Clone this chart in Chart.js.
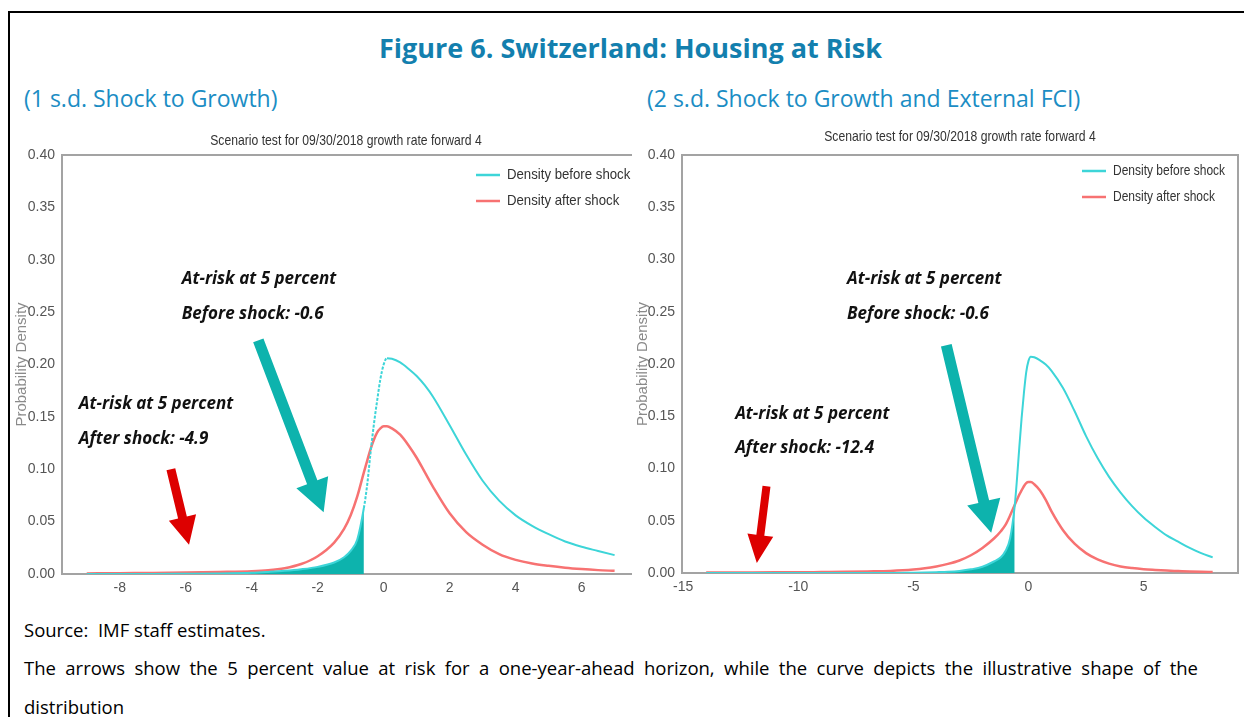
<!DOCTYPE html>
<html>
<head>
<meta charset="utf-8">
<script src="https://cdn.jsdelivr.net/npm/chart.js@4.4.1/dist/chart.umd.min.js"></script>
<style>
  html, body { margin: 0; padding: 0; background: #fff; width: 1244px; height: 717px; overflow: hidden; }
  .frame { position: absolute; left: 8px; top: 11px; width: 1260px; height: 730px; border: 2px solid #000; box-sizing: border-box; }
  .fig-title { position: absolute; left: 8px; width: 1245px; top: 29px; line-height: 34px; text-align: center;
    font: bold 27px "Open Sans", sans-serif; color: #137fae; }
  .sub { position: absolute; top: 82px; line-height: 32px; font: 23px "Open Sans", sans-serif; color: #1b8dc4; white-space: nowrap; }
  .note { position: absolute; left: 24px; line-height: 26px; font: 18.5px "Open Sans", sans-serif; color: #000; white-space: nowrap; }
  .just { width: 1174px; text-align: justify; text-align-last: justify; white-space: normal; }
  .clip { position: absolute; left: 10px; top: 125px; width: 622px; height: 475px; overflow: hidden; }
  canvas { position: absolute; }
</style>
</head>
<body>
<div class="frame"></div>
<div class="fig-title">Figure 6. Switzerland: Housing at Risk</div>
<div class="sub" style="left:24px">(1 s.d. Shock to Growth)</div>
<div class="sub" style="left:647px">(2 s.d. Shock to Growth and External FCI)</div>
<div class="clip"><canvas id="left" width="632" height="475" style="left:0; top:0"></canvas></div>
<canvas id="right" width="611" height="475" style="left:633px; top:125px"></canvas>
<div class="note" style="top:617px">Source:&nbsp; IMF staff estimates.</div>
<div class="note just" style="top:655px">The arrows show the 5 percent value at risk for a one-year-ahead horizon, while the curve depicts the illustrative shape of the</div>
<div class="note" style="top:694px">distribution</div>

<script>
// growth rate grid and densities
const xLeft = [-9, -8, -7, -6, -5, -4, -3.5, -3, -2.5, -2, -1.5, -1.2, -1, -0.8, -0.6, -0.5, -0.4, -0.3, -0.2, -0.1,
  0, 0.1, 0.25, 0.5, 0.75, 1, 1.25, 1.5, 2, 2.5, 3, 3.5, 4, 4.5, 5, 5.5, 6, 6.5, 7];
const beforeLeft = [0, 0, 0, 0.0002, 0.0005, 0.0012, 0.002, 0.003, 0.0045, 0.0068, 0.011, 0.016, 0.022, 0.033, 0.063, 0.085, 0.115, 0.142, 0.165, 0.186,
  0.200, 0.206, 0.2055, 0.202, 0.196, 0.189, 0.180, 0.169, 0.142, 0.114, 0.089, 0.070, 0.056, 0.046, 0.038, 0.031, 0.026, 0.022, 0.018];
const afterLeft = [0.0005, 0.0008, 0.001, 0.0014, 0.0019, 0.0026, 0.0035, 0.0055, 0.0095, 0.017, 0.030, 0.043, 0.056, 0.074, 0.097, 0.108, 0.119, 0.128, 0.135, 0.139,
  0.141, 0.141, 0.139, 0.133, 0.123, 0.111, 0.097, 0.083, 0.058, 0.040, 0.028, 0.019, 0.0135, 0.010, 0.0078, 0.006, 0.0047, 0.0037, 0.003];

const xRight = [-14, -13, -12, -11, -10, -9, -8, -7, -6, -5, -4.5, -4, -3.5, -3, -2.5, -2, -1.5, -1.2, -1, -0.8, -0.6, -0.5, -0.4, -0.3, -0.2, -0.1,
  0, 0.1, 0.25, 0.5, 0.75, 1, 1.5, 2, 2.5, 3, 3.5, 4, 4.5, 5, 5.5, 6, 6.5, 7, 7.5, 8];
const beforeRight = [0, 0, 0, 0, 0, 0, 0, 0, 0, 0.0003, 0.0005, 0.0008, 0.0012, 0.002, 0.0035, 0.006, 0.011, 0.015, 0.021, 0.033, 0.064, 0.09, 0.12, 0.148, 0.172, 0.192,
  0.203, 0.207, 0.2065, 0.2035, 0.1995, 0.1935, 0.177, 0.155, 0.131, 0.110, 0.092, 0.077, 0.064, 0.053, 0.044, 0.036, 0.030, 0.024, 0.019, 0.015];
const afterRight = [0.0004, 0.0004, 0.0005, 0.0006, 0.0007, 0.0009, 0.0011, 0.0015, 0.002, 0.0033, 0.0045, 0.0063, 0.0087, 0.012, 0.017, 0.024, 0.033, 0.040, 0.046, 0.055, 0.065, 0.070, 0.075, 0.079, 0.083, 0.086,
  0.087, 0.087, 0.085, 0.079, 0.070, 0.059, 0.041, 0.028, 0.019, 0.013, 0.009, 0.0063, 0.0047, 0.0036, 0.0029, 0.0023, 0.0019, 0.0015, 0.0012, 0.001];

const xTicksLeft = [-8, -6, -4, -2, 0, 2, 4, 6];
const xTicksRight = [-15, -10, -5, 0, 5];
const yTicks = [0, 0.05, 0.10, 0.15, 0.20, 0.25, 0.30, 0.35, 0.40];

const seriesNames = ["Density before shock", "Density after shock"];
const panelTitle = "Scenario test for 09/30/2018 growth rate forward 4";
const varBefore = -0.6;      // 5 percent at-risk value before the shock (both panels)
const varAfterLeft = -4.9;
const varAfterRight = -12.4;

const CYAN = "#3dd5d8";
const RED = "#f77272";
const TEAL = "#0db3ad";
const ARROW_RED = "#dd0000";
const sans = "'Liberation Sans', Arial, sans-serif";

// condensed-looking text, like the matplotlib labels in the picture
function narrowText(ctx, text, x, y, align, size, color, squeeze) {
  ctx.save();
  ctx.font = size + "px " + sans;
  ctx.fillStyle = color;
  ctx.textBaseline = "middle";
  const w = ctx.measureText(text).width * squeeze;
  const left = align === "center" ? x - w / 2 : x;
  ctx.translate(left, y);
  ctx.scale(squeeze, 1);
  ctx.textAlign = "left";
  ctx.fillText(text, 0, 0);
  ctx.restore();
}

// box around the plot, title, legend, arrows and the bold notes
const decorPlugin = {
  id: "decor",
  beforeDatasetsDraw(chart) {
    const { ctx, chartArea: a } = chart;
    ctx.save();
    ctx.strokeStyle = "#a3a3a3";
    ctx.lineWidth = 2;
    ctx.strokeRect(a.left, a.top, a.right - a.left, a.bottom - a.top);
    ctx.restore();
  },
  afterDatasetsDraw(chart, args, opts) {
    const { ctx, chartArea: a, scales } = chart;
    const px = v => scales.x.getPixelForValue(v);
    const py = v => scales.y.getPixelForValue(v);

    narrowText(ctx, panelTitle, opts.titleX, a.top - opts.titleGap, "center", 14.5, "#333", 0.84);

    // legend, top right inside the plot
    seriesNames.forEach((name, i) => {
      const y = a.top + opts.legendTop + i * 26;
      const x0 = a.right - opts.legendRight - 165;
      ctx.save();
      ctx.strokeStyle = chart.data.datasets[i].borderColor;
      ctx.lineWidth = 2.5;
      ctx.beginPath();
      ctx.moveTo(x0, y);
      ctx.lineTo(x0 + 24, y);
      ctx.stroke();
      ctx.restore();
      narrowText(ctx, name, x0 + 31, y, "left", 15, "#333", opts.legendSqueeze);
    });

    ctx.save();
    opts.arrows.forEach(ar => {
      const x1 = px(ar.from[0]), y1 = py(ar.from[1]);
      const x2 = px(ar.to[0]), y2 = py(ar.to[1]);
      const dx = x2 - x1, dy = y2 - y1, len = Math.hypot(dx, dy);
      const ux = dx / len, uy = dy / len, nx = -uy, ny = ux;
      const bx = x2 - ux * ar.head, by = y2 - uy * ar.head;
      const s = ar.shaft / 2, h = ar.half;
      ctx.beginPath();
      ctx.moveTo(x1 + nx * s, y1 + ny * s);
      ctx.lineTo(bx + nx * s, by + ny * s);
      ctx.lineTo(bx + nx * h, by + ny * h);
      ctx.lineTo(x2, y2);
      ctx.lineTo(bx - nx * h, by - ny * h);
      ctx.lineTo(bx - nx * s, by - ny * s);
      ctx.lineTo(x1 - nx * s, y1 - ny * s);
      ctx.closePath();
      ctx.fillStyle = ar.color;
      ctx.fill();
    });

    ctx.fillStyle = "#111";
    ctx.font = "italic bold 17px 'Open Sans', sans-serif";
    ctx.textBaseline = "middle";
    ctx.textAlign = "left";
    opts.notes.forEach(n => ctx.fillText(n.text, px(n.at[0]), py(n.at[1])));
    ctx.restore();
  }
};

function makeChart(id, cfg) {
  const pts = arr => cfg.xs.map((x, i) => ({ x: x, y: arr[i] }));
  const shaded = cfg.xs.map((x, i) => ({ x: x, y: cfg.before[i] })).filter(p => p.x <= varBefore);

  return new Chart(document.getElementById(id), {
    type: "line",
    data: {
      datasets: [
        {
          label: seriesNames[0],
          data: pts(cfg.before),
          borderColor: CYAN,
          borderWidth: 2,
          pointRadius: 0,
          cubicInterpolationMode: "monotone",
          segment: {
            borderDash: c => (cfg.dashRise && c.p0.parsed.x >= varBefore && c.p1.parsed.x <= 0.1) ? [3, 1.5] : undefined
          }
        },
        {
          label: seriesNames[1],
          data: pts(cfg.after),
          borderColor: RED,
          borderWidth: 2.5,
          pointRadius: 0,
          cubicInterpolationMode: "monotone"
        },
        {
          label: "tail",
          data: shaded,
          borderWidth: 0,
          pointRadius: 0,
          backgroundColor: TEAL,
          fill: "origin",
          cubicInterpolationMode: "monotone"
        }
      ]
    },
    options: {
      responsive: false,
      animation: false,
      events: [],
      layout: { padding: { top: 30, right: cfg.padRight, left: 0, bottom: 0 } },
      plugins: {
        legend: { display: false },
        tooltip: { enabled: false },
        title: { display: false },
        decor: {
          titleX: cfg.titleX, titleGap: cfg.titleGap,
          legendTop: cfg.legendTop, legendRight: cfg.legendRight, legendSqueeze: cfg.legendSqueeze,
          arrows: cfg.arrows, notes: cfg.notes
        }
      },
      scales: {
        x: {
          type: "linear",
          min: cfg.xMin,
          max: cfg.xMax,
          afterBuildTicks: s => { s.ticks = cfg.xTicks.map(v => ({ value: v })); },
          afterFit: s => { s.height = cfg.xAxisH; },
          grid: { display: false, drawTicks: false },
          border: { display: false },
          ticks: { color: "#555", font: { family: sans, size: 14 }, padding: 6, maxRotation: 0, autoSkip: false, callback: v => v }
        },
        y: {
          min: 0,
          max: 0.4,
          afterBuildTicks: s => { s.ticks = yTicks.map(v => ({ value: v })); },
          afterFit: s => { s.width = cfg.yAxisW; },
          grid: { display: false, drawTicks: false },
          border: { display: false },
          ticks: { color: "#555", font: { family: sans, size: 14 }, padding: 7, callback: v => v.toFixed(2) },
          title: {
            display: true,
            text: "Probability Density",
            color: "#8a8a8a",
            font: { family: sans, size: 15 },
            padding: { top: cfg.yTitlePad, bottom: 0 }
          }
        }
      }
    },
    plugins: [decorPlugin]
  });
}

makeChart("left", {
  xs: xLeft, before: beforeLeft, after: afterLeft,
  xMin: -9.75, xMax: 7.8, xTicks: xTicksLeft, dashRise: true,
  padRight: 1, yAxisW: 52, xAxisH: 26, yTitlePad: 3,
  titleX: 336, titleGap: 14,
  legendTop: 20, legendRight: 0, legendSqueeze: 0.88,
  arrows: [
    { from: [-3.8, 0.223], to: [-1.82, 0.059], shaft: 11, head: 32, half: 17, color: TEAL },
    { from: [-6.45, 0.10], to: [-5.9, 0.028], shaft: 9, head: 28, half: 14, color: ARROW_RED }
  ],
  notes: [
    { text: "At-risk at 5 percent", at: [-6.12, 0.281] },
    { text: "Before shock: " + varBefore, at: [-6.12, 0.248] },
    { text: "At-risk at 5 percent", at: [-9.24, 0.162] },
    { text: "After shock: " + varAfterLeft, at: [-9.24, 0.129] }
  ]
});

makeChart("right", {
  xs: xRight, before: beforeRight, after: afterRight,
  xMin: -15.05, xMax: 9.1, xTicks: xTicksRight, dashRise: false,
  padRight: 6, yAxisW: 49, xAxisH: 27, yTitlePad: 1,
  titleX: 327, titleGap: 18,
  legendTop: 16, legendRight: -9, legendSqueeze: 0.8,
  arrows: [
    { from: [-3.57, 0.218], to: [-1.62, 0.0385], shaft: 11, head: 32, half: 17, color: TEAL },
    { from: [-11.38, 0.083], to: [-11.8, 0.0096], shaft: 8, head: 28, half: 13, color: ARROW_RED }
  ],
  notes: [
    { text: "At-risk at 5 percent", at: [-7.88, 0.281] },
    { text: "Before shock: " + varBefore, at: [-7.88, 0.248] },
    { text: "At-risk at 5 percent", at: [-12.74, 0.152] },
    { text: "After shock: " + varAfterRight, at: [-12.74, 0.119] }
  ]
});
</script>
</body>
</html>
